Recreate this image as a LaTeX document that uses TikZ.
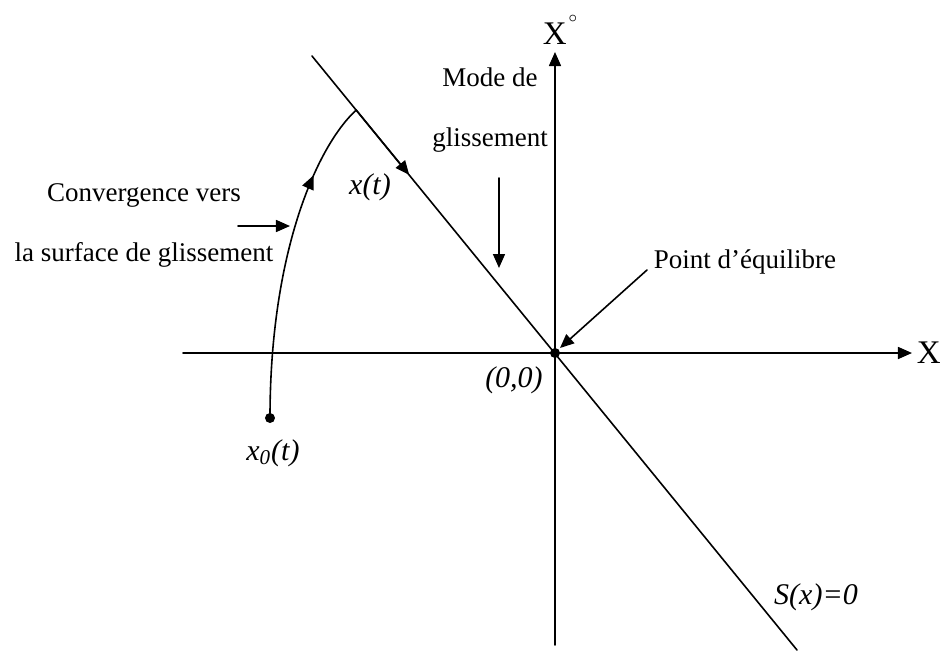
\documentclass[tikz,border=0pt]{standalone}
\usepackage{fontspec}
\setmainfont{Liberation Serif}
\usetikzlibrary{arrows.meta,decorations.markings,calc}
\begin{document}
\begin{tikzpicture}[x=25pt, y=25pt, font=\fontsize{13.5}{30}\selectfont, line join=round, line cap=round, line width=0.8pt, >={Triangle[length=7pt,width=6pt]},
	lbl/.style={font=\fontsize{15}{18}\selectfont\itshape},
	axlbl/.style={font=\fontsize{16.5}{20}\selectfont}]
	\def\xmin{-7.44} \def\xmax{7.14}
	\def\ymin{-5.84} \def\ymax{6.02}
	\useasboundingbox (-11.1,-6.14) rectangle (7.88,7.06);
	\coordinate (O) at (0,0);
	\coordinate (xl) at (\xmin,0); \coordinate (xr) at (\xmax,0);
	\coordinate (yb) at (0,\ymin); \coordinate (yt) at (0,\ymax);
	\draw[->] (xl)--(xr) node (labX) [axlbl, right, inner sep=2pt]{X};
	\draw[->] (yb)--(yt) node (labY) [axlbl, above, xshift=2.5pt]{X\kern1pt\raisebox{11pt}{\fontsize{8}{8}\selectfont$\circ$}};
	% surface de glissement
	\coordinate (top) at (-4.86,5.94); \coordinate (bot) at (4.84,-5.94);
	\draw (top)--(bot);
	\coordinate (J) at ($(O)!0.818!(top)$);
	\coordinate (tip) at ($(O)!0.6!(top)$);
	\draw[->] (J)--(tip);
	\fill (O) circle (2.5pt);
	% trajectoire
	\coordinate (x0) at (-5.7,-1.3);
	\draw[postaction={decorate}, decoration={markings, mark=at position 0.76 with {\arrow{Triangle[length=7pt,width=6pt]}}}]
		(x0) .. controls (-5.7,2.06) and (-4.74,4.16) .. (J);
	\fill (x0) circle (2.5pt);
	\node (labx0) [lbl] at (-5.64,-2.0) {x\textsubscript{0}(t)};
	\node (labxt) [lbl] at (-3.7,3.32) {x(t)};
	\node (labO) [lbl] at (-0.82,-0.54) {(0,0)};
	\node (labS) [lbl] at (5.22,-4.88) {S(x)=0};
	% textes et fleches
	\node (mode) [align=center] at (-1.3,4.86) {Mode de\\glissement};
	\coordinate (m1) at (-1.12,3.5); \coordinate (m2) at (-1.12,1.7);
	\draw[->] (m1)--(m2);
	\node (equi) at (3.8,1.82) {Point d’équilibre};
	\coordinate (e1) at (1.84,1.66); \coordinate (e2) at (0.1,0.1);
	\draw[->] (e1)--(e2);
	\node (conv) [align=center] at (-8.22,2.56) {Convergence vers\\la surface de glissement};
	\coordinate (c1) at (-6.34,2.54); \coordinate (c2) at (-5.3,2.54);
	\draw[->] (c1)--(c2);
\end{tikzpicture}
\end{document}
